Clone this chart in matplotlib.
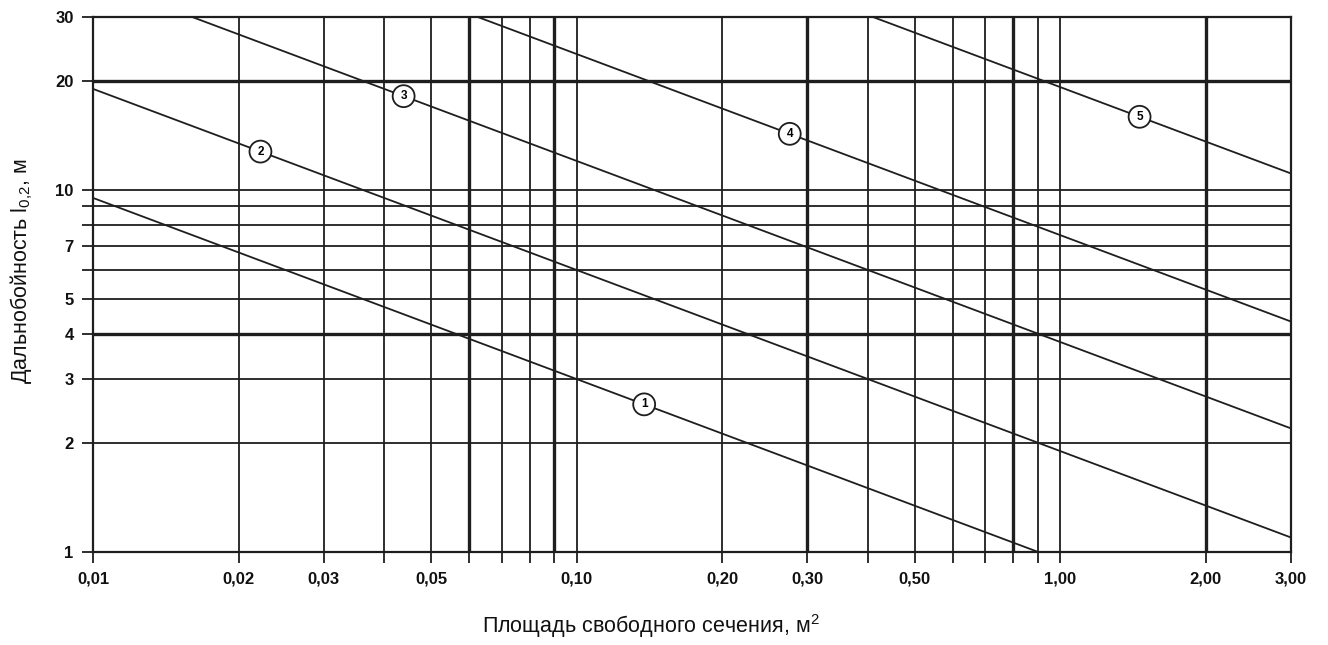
import numpy as np
import matplotlib
matplotlib.use('Agg')
import matplotlib.pyplot as plt
from matplotlib.ticker import FixedLocator, NullLocator

plt.rcParams['font.family'] = ['Liberation Sans', 'DejaVu Sans']
plt.rcParams['mathtext.fontset'] = 'custom'
plt.rcParams['mathtext.rm'] = 'Liberation Sans'

# curves: l = c * A^-0.5, read as values at A = 0.01 and A = 3.00
curve_ids = ['1', '2', '3', '4', '5']
y_at_left = [9.5, 19.0, 38.0, 75.0, 192.0]
y_at_right = [0.548, 1.097, 2.195, 4.33, 11.1]
label_x = [0.138, 0.0222, 0.0439, 0.276, 1.46]

x_lines = [0.01, 0.02, 0.03, 0.04, 0.05, 0.06, 0.07, 0.08, 0.09, 0.10,
           0.20, 0.30, 0.40, 0.50, 0.60, 0.70, 0.80, 0.90, 1.00, 2.00, 3.00]
x_labels = ['0,01', '0,02', '0,03', '', '0,05', '', '', '', '', '0,10',
            '0,20', '0,30', '', '0,50', '', '', '', '', '1,00', '2,00', '3,00']
x_thick = [0.06, 0.09, 0.30, 0.80, 2.00]

y_lines = [1, 2, 3, 4, 5, 6, 7, 8, 9, 10, 20, 30]
y_labels = ['1', '2', '3', '4', '5', '', '7', '', '', '10', '20', '30']
y_thick = [4, 20]

ink = '#1e1e1e'
fig = plt.figure(figsize=(13.28, 6.45), dpi=100)
ax = fig.add_axes([0.070, 0.1442, 0.902, 0.8294])
ax.set_xscale('log')
ax.set_yscale('log')
ax.set_xlim(0.01, 3.0)
ax.set_ylim(1, 30)

for x in x_lines:
    ax.axvline(x, color=ink, lw=2.4 if x in x_thick else 1.3, zorder=1)
for y in y_lines:
    ax.axhline(y, color=ink, lw=2.4 if y in y_thick else 1.3, zorder=1)

xs = np.array([0.01, 3.0])
for cid, yl, yr, lx in zip(curve_ids, y_at_left, y_at_right, label_x):
    ax.plot(xs, [yl, yr], color=ink, lw=1.3, zorder=2)
    k = np.log(yr / yl) / np.log(xs[1] / xs[0])
    ly = yl * (lx / xs[0]) ** k
    ax.text(lx, ly, cid, ha='center', va='center', fontsize=8.5, zorder=4,
            fontweight='bold',
            bbox=dict(boxstyle='circle,pad=0.42', fc='white', ec=ink, lw=1.3))

ax.xaxis.set_major_locator(FixedLocator(x_lines))
ax.xaxis.set_minor_locator(NullLocator())
ax.set_xticklabels(x_labels)
ax.yaxis.set_major_locator(FixedLocator(y_lines))
ax.yaxis.set_minor_locator(NullLocator())
ax.set_yticklabels(y_labels)
ax.tick_params(direction='out', length=8, width=1.3, color=ink,
               labelsize=12, labelcolor='#111111', pad=6)
for lab in ax.get_xticklabels() + ax.get_yticklabels():
    lab.set_fontweight('bold')
for s in ax.spines.values():
    s.set_color(ink)
    s.set_linewidth(1.6)

ax.set_xlabel('Площадь свободного сечения, м$^2$', fontsize=15.5, color='#111111')
ax.xaxis.set_label_coords(0.466, -0.112)
ax.set_ylabel('Дальнобойность l$_{0{,}2}$, м', fontsize=15.5, color='#111111')
ax.yaxis.set_label_coords(-0.048, 0.525)

fig.savefig('out.png', dpi=100)
